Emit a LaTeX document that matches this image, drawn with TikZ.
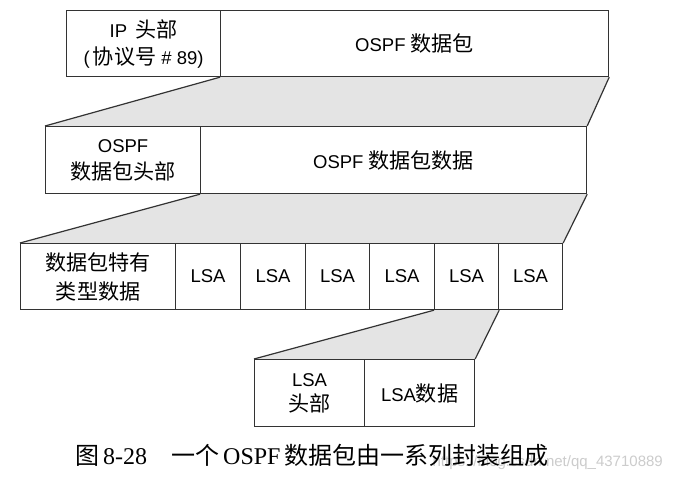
\documentclass[tikz,border=0pt]{standalone}
\usepackage{fontspec}
\usetikzlibrary{backgrounds}
\setmainfont{Liberation Sans}
\newfontfamily\cjk[Scale=1.14]{Noto Sans CJK SC}
\newfontfamily\capcjk{Noto Sans CJK SC}
\newfontfamily\capserif{Liberation Serif}
\definecolor{edge}{HTML}{333333}
\definecolor{shade}{HTML}{E4E4E4}
\begin{document}
\begin{tikzpicture}[x=1pt,y=-1pt,
  cell/.style={draw=edge, line width=1.2pt, rectangle, inner sep=0pt,
    anchor=north west, align=center,
    font=\fontsize{18.5}{27}\selectfont},
  row1/.style={cell, minimum height=66pt},
  row2/.style={cell, minimum height=67pt},
  row3/.style={cell, minimum height=66pt},
  row4/.style={cell, minimum height=67pt},
  funnel/.style={fill=shade},
  slant/.style={draw=edge, line width=1.2pt}]
\useasboundingbox (0,0) rectangle (673,481);

% row 1
\node[row1, minimum width=154pt] (ip) at (66,10) {IP\, {\cjk 头部}\\(\,{\cjk 协议号} \# 89)};
\node[row1, minimum width=388pt] (ospfpkt) at (220,10) {OSPF {\cjk 数据包}};
% row 2
\node[row2, minimum width=155pt] (hdr) at (45,126) {OSPF\\{\cjk 数据包头部}};
\node[row2, minimum width=386pt] (data) at (200,126) {OSPF {\cjk 数据包数据}};
% row 3
\node[row3, minimum width=155pt, font=\fontsize{18.5}{29}\selectfont] (spec) at (20,243) {{\cjk 数据包特有}\\{\cjk 类型数据}};
\node[row3, minimum width=65pt] (lsa1) at (175,243) {LSA};
\node[row3, minimum width=65pt] (lsa2) at (240,243) {LSA};
\node[row3, minimum width=64pt] (lsa3) at (305,243) {LSA};
\node[row3, minimum width=65pt] (lsa4) at (369,243) {LSA};
\node[row3, minimum width=64pt] (lsa5) at (434,243) {LSA};
\node[row3, minimum width=64pt] (lsa6) at (498,243) {LSA};
% row 4
\node[row4, minimum width=110pt, font=\fontsize{18.5}{25}\selectfont] (lsahdr) at (254,359) {LSA\\{\cjk 头部}};
\node[row4, minimum width=110pt] (lsadata) at (364,359) {LSA{\cjk 数据}};

\begin{scope}[on background layer]
  \fill[white] (0,0) rectangle (673,481);
  \fill[funnel] (ospfpkt.south west) -- (ospfpkt.south east) -- (data.north east) -- (hdr.north west) -- cycle;
  \fill[funnel] (data.south west) -- (data.south east) -- (lsa6.north east) -- (spec.north west) -- cycle;
  \fill[funnel] (lsa5.south west) -- (lsa5.south east) -- (lsadata.north east) -- (lsahdr.north west) -- cycle;
  % faint watermark, lying under the caption as in the reference
  \node[anchor=base east, inner sep=0pt, text=black!20, font=\fontsize{15}{17}\selectfont] (mark) at (663,467)
    {https://blog.csdn.net/qq\_43710889};
\end{scope}

\draw[slant] (ospfpkt.south west) -- (hdr.north west);
\draw[slant] (ospfpkt.south east) -- (data.north east);
\draw[slant] (data.south west) -- (spec.north west);
\draw[slant] (data.south east) -- (lsa6.north east);
\draw[slant] (lsa5.south west) -- (lsahdr.north west);
\draw[slant] (lsa5.south east) -- (lsadata.north east);

% caption
\node[anchor=west, inner sep=0pt, font=\fontsize{24}{28}\selectfont] (caption) at (75,455)
  {{\capcjk 图}\,{\capserif 8-28}\hspace{1em}{\capcjk 一个}\,{\capserif OSPF}\,{\capcjk 数据包由一系列封装组成}};
\end{tikzpicture}
\end{document}
